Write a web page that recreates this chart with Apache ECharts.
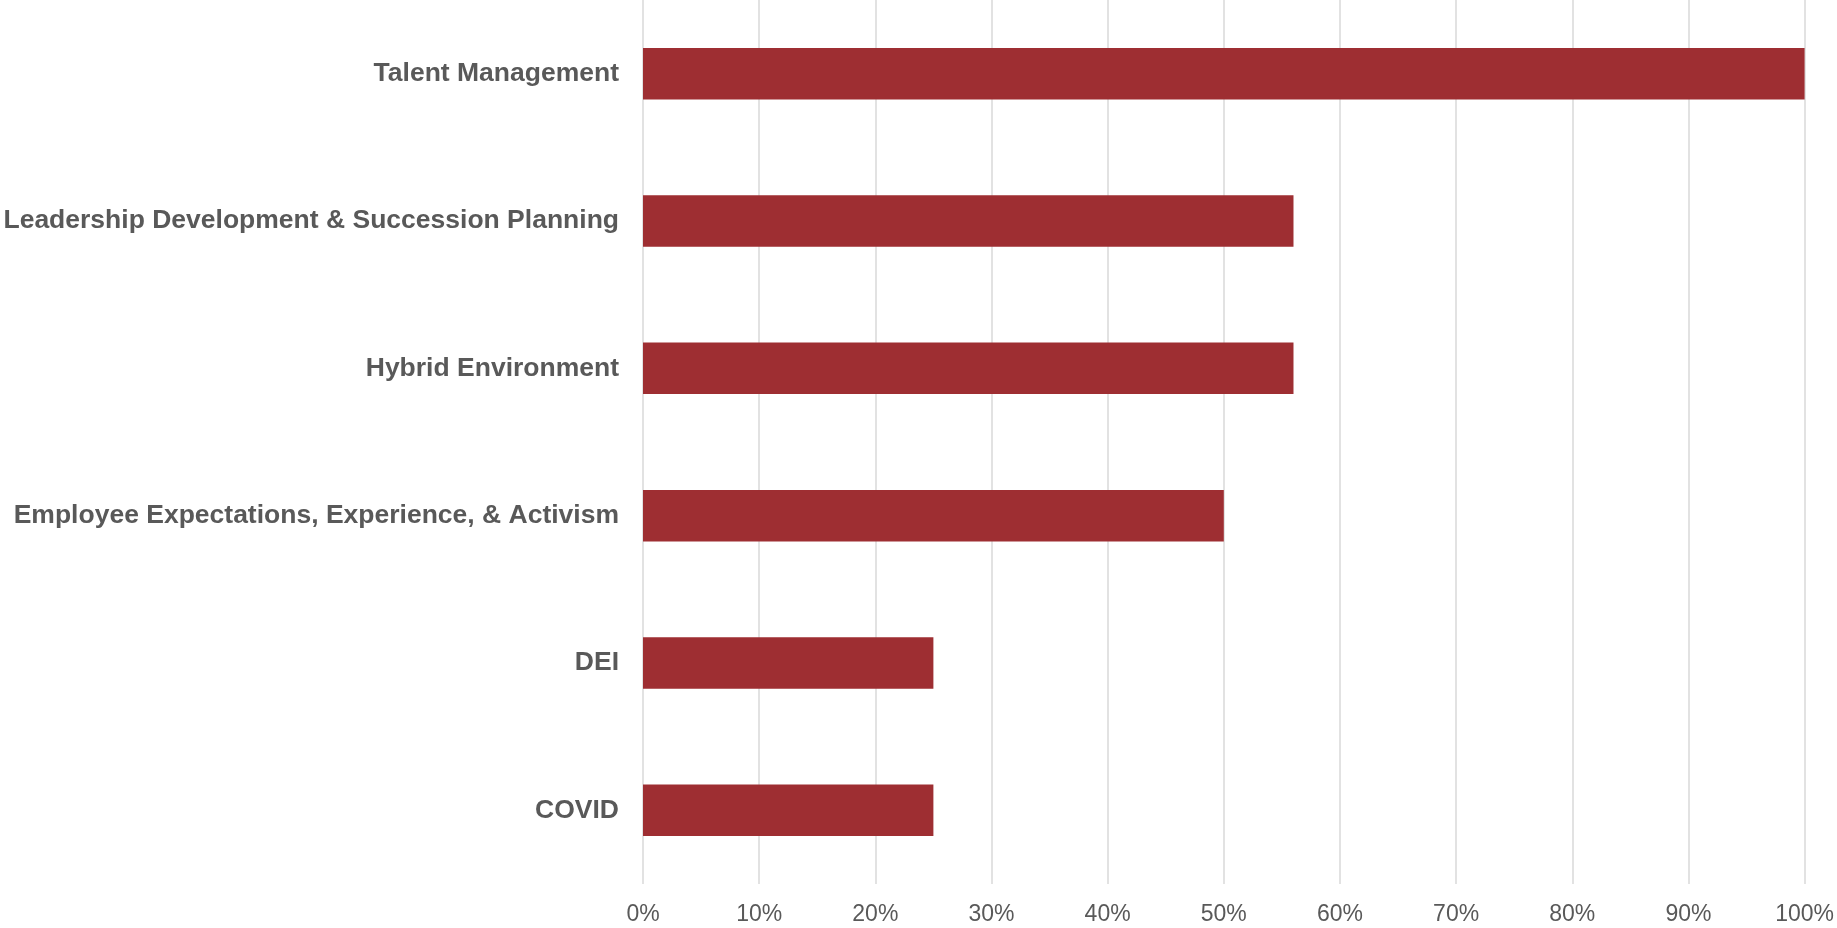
<!DOCTYPE html>
<html>
<head>
<meta charset="utf-8">
<script src="https://cdn.jsdelivr.net/npm/echarts@6/dist/echarts.min.js"></script>
<style>
html,body{margin:0;padding:0;background:#fff;}
#chart{width:1837px;height:928px;}
</style>
</head>
<body>
<div id="chart"></div>
<script>
const categories = [
  "Talent Management",
  "Leadership Development & Succession Planning",
  "Hybrid Environment",
  "Employee Expectations, Experience, & Activism",
  "DEI",
  "COVID"
];
const values = [100, 56, 56, 50, 25, 25];
const tickMin = 0, tickMax = 100, tickStep = 10;

const chart = echarts.init(document.getElementById('chart'), null, {renderer: 'canvas'});
chart.setOption({
  animation: false,
  backgroundColor: '#ffffff',
  grid: {left: 643, right: 32, top: 0, bottom: 44, containLabel: false},
  xAxis: {
    type: 'value',
    min: tickMin, max: tickMax, interval: tickStep,
    axisLine: {show: false},
    axisTick: {show: false},
    axisLabel: {
      formatter: '{value}%',
      color: '#595959',
      fontFamily: 'Liberation Sans, Arial, sans-serif',
      fontSize: 23,
      margin: 19
    },
    splitLine: {show: true, lineStyle: {color: '#D9D9D9', width: 1.5}}
  },
  yAxis: {
    type: 'category',
    data: categories,
    inverse: true,
    axisLine: {show: false},
    axisTick: {show: false},
    axisLabel: {
      color: '#595959',
      fontFamily: 'Liberation Sans, Arial, sans-serif',
      fontWeight: 'bold',
      fontSize: 26.5,
      margin: 24
    },
    splitLine: {show: false}
  },
  series: [{
    type: 'bar',
    data: values,
    barWidth: '35%',
    itemStyle: {color: '#9E2E32'}
  }]
});
</script>
</body>
</html>
